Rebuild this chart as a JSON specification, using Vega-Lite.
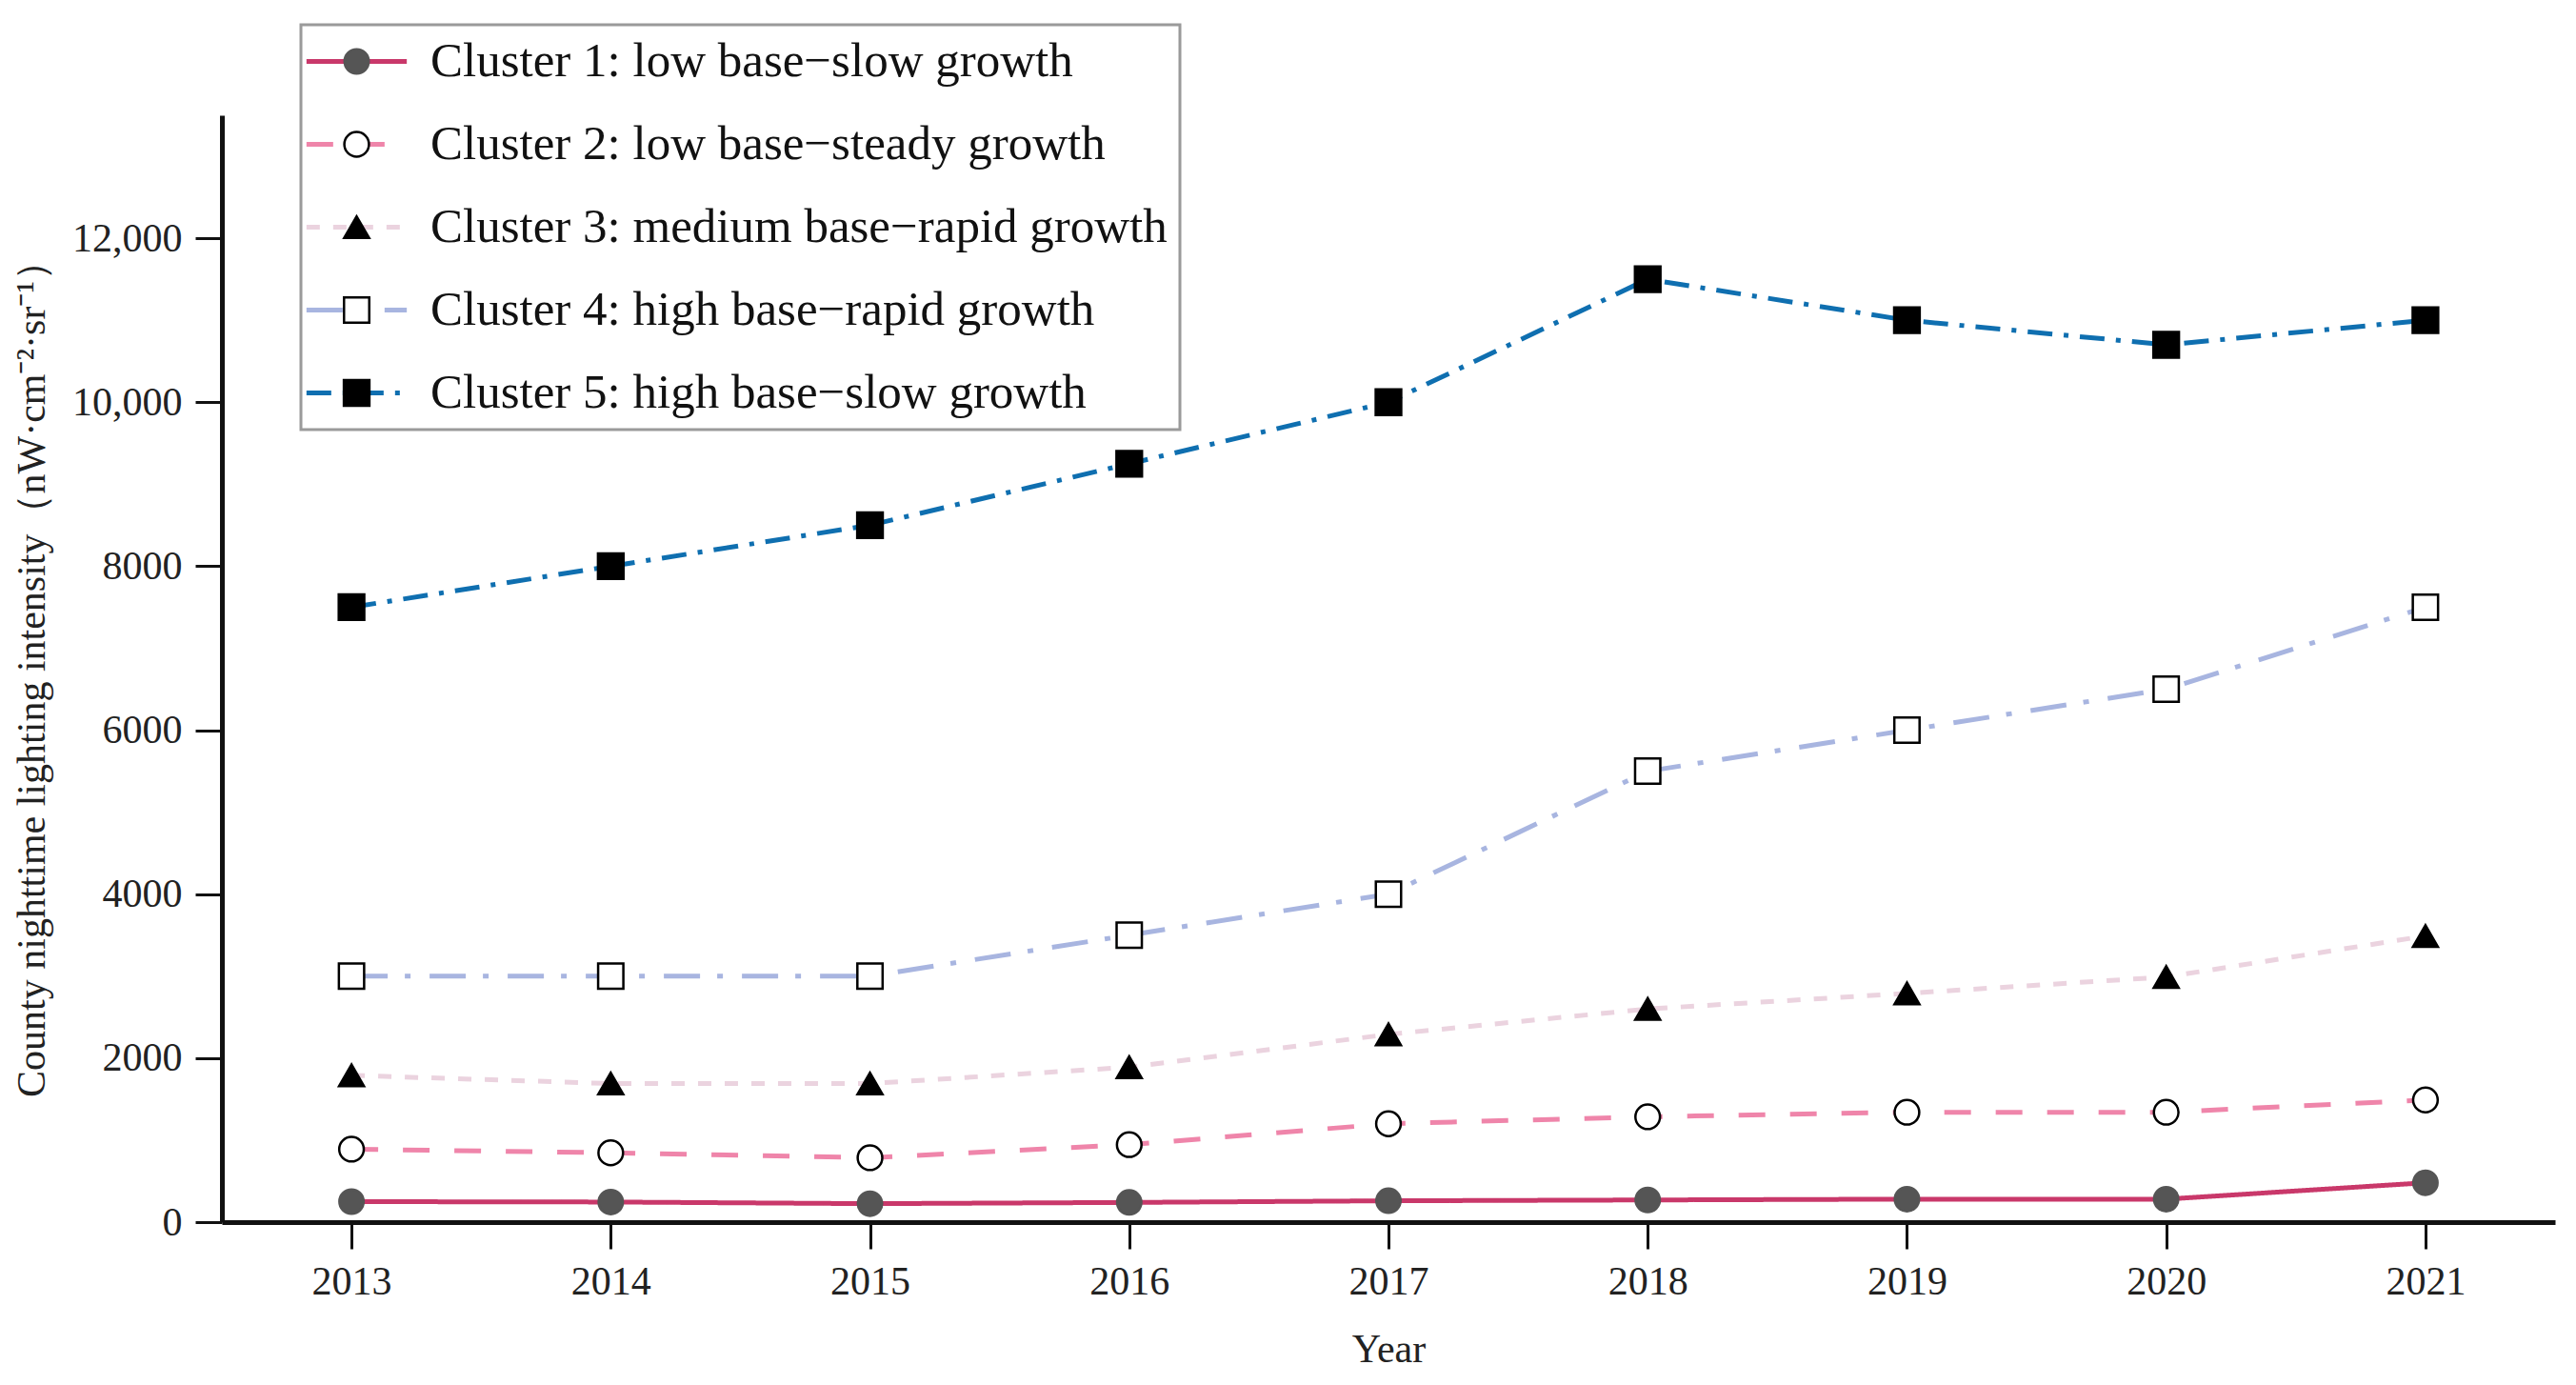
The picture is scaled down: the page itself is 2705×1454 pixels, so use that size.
{
  "$schema": "https://vega.github.io/schema/vega-lite/v6.json",
  "width": 2450,
  "height": 1162,
  "autosize": {"type": "none"},
  "padding": {"left": 233, "top": 121, "right": 22, "bottom": 171},
  "background": "white",
  "config": {
    "view": {"stroke": null},
    "font": "Liberation Serif",
    "legend": {"strokeWidth": 3, "labelLimit": 1200}
  },
  "data": {
    "values": [
      {"year": 2013, "cluster": "Cluster 1: low base−slow growth", "value": 250},
      {"year": 2014, "cluster": "Cluster 1: low base−slow growth", "value": 245},
      {"year": 2015, "cluster": "Cluster 1: low base−slow growth", "value": 225},
      {"year": 2016, "cluster": "Cluster 1: low base−slow growth", "value": 240},
      {"year": 2017, "cluster": "Cluster 1: low base−slow growth", "value": 260},
      {"year": 2018, "cluster": "Cluster 1: low base−slow growth", "value": 270},
      {"year": 2019, "cluster": "Cluster 1: low base−slow growth", "value": 280},
      {"year": 2020, "cluster": "Cluster 1: low base−slow growth", "value": 280},
      {"year": 2021, "cluster": "Cluster 1: low base−slow growth", "value": 480},
      {"year": 2013, "cluster": "Cluster 2: low base−steady growth", "value": 890},
      {"year": 2014, "cluster": "Cluster 2: low base−steady growth", "value": 845},
      {"year": 2015, "cluster": "Cluster 2: low base−steady growth", "value": 785},
      {"year": 2016, "cluster": "Cluster 2: low base−steady growth", "value": 945},
      {"year": 2017, "cluster": "Cluster 2: low base−steady growth", "value": 1200},
      {"year": 2018, "cluster": "Cluster 2: low base−steady growth", "value": 1285},
      {"year": 2019, "cluster": "Cluster 2: low base−steady growth", "value": 1340},
      {"year": 2020, "cluster": "Cluster 2: low base−steady growth", "value": 1340},
      {"year": 2021, "cluster": "Cluster 2: low base−steady growth", "value": 1490},
      {"year": 2013, "cluster": "Cluster 3: medium base−rapid growth", "value": 1790},
      {"year": 2014, "cluster": "Cluster 3: medium base−rapid growth", "value": 1690},
      {"year": 2015, "cluster": "Cluster 3: medium base−rapid growth", "value": 1690},
      {"year": 2016, "cluster": "Cluster 3: medium base−rapid growth", "value": 1890},
      {"year": 2017, "cluster": "Cluster 3: medium base−rapid growth", "value": 2290},
      {"year": 2018, "cluster": "Cluster 3: medium base−rapid growth", "value": 2600},
      {"year": 2019, "cluster": "Cluster 3: medium base−rapid growth", "value": 2790},
      {"year": 2020, "cluster": "Cluster 3: medium base−rapid growth", "value": 2990},
      {"year": 2021, "cluster": "Cluster 3: medium base−rapid growth", "value": 3490},
      {"year": 2013, "cluster": "Cluster 4: high base−rapid growth", "value": 3000},
      {"year": 2014, "cluster": "Cluster 4: high base−rapid growth", "value": 3000},
      {"year": 2015, "cluster": "Cluster 4: high base−rapid growth", "value": 3000},
      {"year": 2016, "cluster": "Cluster 4: high base−rapid growth", "value": 3500},
      {"year": 2017, "cluster": "Cluster 4: high base−rapid growth", "value": 4000},
      {"year": 2018, "cluster": "Cluster 4: high base−rapid growth", "value": 5500},
      {"year": 2019, "cluster": "Cluster 4: high base−rapid growth", "value": 6000},
      {"year": 2020, "cluster": "Cluster 4: high base−rapid growth", "value": 6500},
      {"year": 2021, "cluster": "Cluster 4: high base−rapid growth", "value": 7500},
      {"year": 2013, "cluster": "Cluster 5: high base−slow growth", "value": 7500},
      {"year": 2014, "cluster": "Cluster 5: high base−slow growth", "value": 8000},
      {"year": 2015, "cluster": "Cluster 5: high base−slow growth", "value": 8500},
      {"year": 2016, "cluster": "Cluster 5: high base−slow growth", "value": 9250},
      {"year": 2017, "cluster": "Cluster 5: high base−slow growth", "value": 10000},
      {"year": 2018, "cluster": "Cluster 5: high base−slow growth", "value": 11500},
      {"year": 2019, "cluster": "Cluster 5: high base−slow growth", "value": 11000},
      {"year": 2020, "cluster": "Cluster 5: high base−slow growth", "value": 10700},
      {"year": 2021, "cluster": "Cluster 5: high base−slow growth", "value": 11000}
    ]
  },
  "encoding": {
    "x": {
      "field": "year", "type": "quantitative",
      "scale": {"domain": [2012.5, 2021.5], "nice": false, "zero": false},
      "axis": {
        "values": [2013, 2014, 2015, 2016, 2017, 2018, 2019, 2020, 2021],
        "format": "d", "title": "Year", "grid": false,
        "domainColor": "#111111", "domainWidth": 5,
        "tickColor": "#111111", "tickWidth": 3, "tickSize": 28,
        "labelFont": "Liberation Serif", "labelFontSize": 42, "labelColor": "#222222", "labelPadding": 14,
        "titleFont": "Liberation Serif", "titleFontSize": 42, "titleFontWeight": "normal", "titleColor": "#222222", "titlePadding": 30
      }
    },
    "y": {
      "field": "value", "type": "quantitative",
      "scale": {"domain": [0, 13500], "nice": false},
      "axis": {
        "values": [0, 2000, 4000, 6000, 8000, 10000, 12000],
        "labelExpr": "datum.value >= 10000 ? format(datum.value, ',') : format(datum.value, 'd')",
        "title": "County nighttime lighting intensity（nW·cm⁻²·sr⁻¹）", "grid": false,
        "domainColor": "#111111", "domainWidth": 5,
        "tickColor": "#111111", "tickWidth": 3, "tickSize": 28,
        "labelFont": "Liberation Serif", "labelFontSize": 42, "labelColor": "#222222", "labelPadding": 14,
        "titleFont": "Liberation Serif", "titleFontSize": 42, "titleFontWeight": "normal", "titleColor": "#222222", "titlePadding": 20
      }
    }
  },
  "layer": [
    {
      "mark": {"type": "line", "strokeWidth": 5},
      "encoding": {
        "color": {
          "field": "cluster", "type": "nominal",
          "scale": {"range": ["#C9386A", "#EF85AA", "#EBD3DF", "#A8B5E0", "#0F6FB0"]},
          "legend": {"title": null, "orient": "none", "legendX": 83, "legendY": -95, "symbolType": "M-4.3,0L4.3,0", "symbolSize": 600, "symbolStrokeWidth": 5, "labelFont": "Liberation Serif", "labelFontSize": 51, "labelOpacity": 0, "labelOffset": 52, "symbolOffset": 20, "rowPadding": 35, "padding": 13}
        },
        "strokeDash": {
          "field": "cluster", "type": "nominal",
          "scale": {"range": [[1, 0], [28, 26], [14, 14], [38, 18, 6, 20], [26, 12, 5, 12]]},
          "legend": {"title": null, "orient": "none", "legendX": 83, "legendY": -95, "symbolType": "M-4.3,0L4.3,0", "symbolSize": 600, "symbolStrokeWidth": 5, "labelFont": "Liberation Serif", "labelFontSize": 51, "labelOpacity": 0, "labelOffset": 52, "symbolOffset": 20, "rowPadding": 35, "padding": 13}
        }
      }
    },
    {
      "mark": {"type": "point", "strokeWidth": 2.5, "opacity": 1},
      "encoding": {
        "shape": {
          "field": "cluster", "type": "nominal",
          "scale": {"domain": ["Cluster 1: low base−slow growth", "Cluster 2: low base−steady growth", "Cluster 3: medium base−rapid growth", "Cluster 4: high base−rapid growth", "Cluster 5: high base−slow growth"], "range": ["circle", "circle", "triangle-up", "square", "square"]},
          "legend": {"title": null, "orient": "none", "legendX": 83, "legendY": -95, "labelFont": "Liberation Serif", "labelFontSize": 51, "labelColor": "#111111", "labelOffset": 52, "symbolOffset": 20, "symbolStrokeWidth": 2.5, "rowPadding": 35, "padding": 13, "strokeColor": "#9a9a9a"}
        },
        "size": {
          "field": "cluster", "type": "nominal",
          "scale": {"domain": ["Cluster 1: low base−slow growth", "Cluster 2: low base−steady growth", "Cluster 3: medium base−rapid growth", "Cluster 4: high base−rapid growth", "Cluster 5: high base−slow growth"], "range": [650, 720, 950, 560, 560]},
          "legend": {"title": null, "orient": "none", "legendX": 83, "legendY": -95, "labelFont": "Liberation Serif", "labelFontSize": 51, "labelColor": "#111111", "labelOffset": 52, "symbolOffset": 20, "symbolStrokeWidth": 2.5, "rowPadding": 35, "padding": 13, "strokeColor": "#9a9a9a"}
        },
        "fill": {
          "field": "cluster", "type": "nominal",
          "scale": {"domain": ["Cluster 1: low base−slow growth", "Cluster 2: low base−steady growth", "Cluster 3: medium base−rapid growth", "Cluster 4: high base−rapid growth", "Cluster 5: high base−slow growth"], "range": ["#555555", "#ffffff", "#000000", "#ffffff", "#000000"]},
          "legend": {"title": null, "orient": "none", "legendX": 83, "legendY": -95, "labelFont": "Liberation Serif", "labelFontSize": 51, "labelColor": "#111111", "labelOffset": 52, "symbolOffset": 20, "symbolStrokeWidth": 2.5, "rowPadding": 35, "padding": 13, "strokeColor": "#9a9a9a"}
        },
        "stroke": {
          "field": "cluster", "type": "nominal",
          "scale": {"domain": ["Cluster 1: low base−slow growth", "Cluster 2: low base−steady growth", "Cluster 3: medium base−rapid growth", "Cluster 4: high base−rapid growth", "Cluster 5: high base−slow growth"], "range": ["#555555", "#000000", "#000000", "#000000", "#000000"]},
          "legend": {"title": null, "orient": "none", "legendX": 83, "legendY": -95, "labelFont": "Liberation Serif", "labelFontSize": 51, "labelColor": "#111111", "labelOffset": 52, "symbolOffset": 20, "symbolStrokeWidth": 2.5, "rowPadding": 35, "padding": 13, "strokeColor": "#9a9a9a"}
        }
      }
    }
  ]
}
